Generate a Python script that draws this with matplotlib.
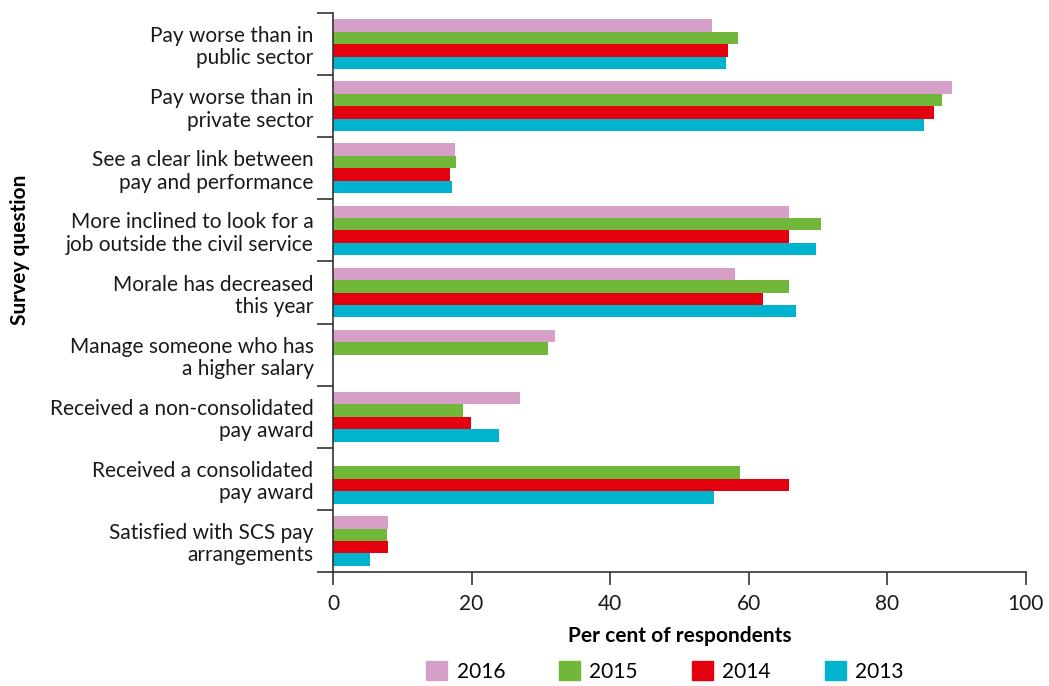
import numpy as np
import matplotlib
matplotlib.use('Agg')
import matplotlib.pyplot as plt
from matplotlib.patches import Patch

plt.rcParams['font.family'] = ['Lato', 'DejaVu Sans']

questions = [
  'Pay worse than in\npublic sector',
  'Pay worse than in\nprivate sector',
  'See a clear link between\npay and performance',
  'More inclined to look for a\njob outside the civil service',
  'Morale has decreased\nthis year',
  'Manage someone who has\na higher salary',
  'Received a non-consolidated\npay award',
  'Received a consolidated\npay award',
  'Satisfied with SCS pay\narrangements',
]
years = ['2016', '2015', '2014', '2013']
colors = ['#D69FC8', '#71B73A', '#E3000F', '#00B4D0']

nan = np.nan
v2016 = [54.7, 89.4, 17.6, 65.8, 58.0, 32.0, 27.0, nan, 8.0]
v2015 = [58.4, 87.9, 17.7, 70.4, 65.8, 31.1, 18.8, 58.8, 7.8]
v2014 = [57.0, 86.7, 16.9, 65.8, 62.0, nan, 19.9, 65.8, 7.9]
v2013 = [56.7, 85.3, 17.2, 69.7, 66.8, nan, 24.0, 55.0, 5.3]
series = [v2016, v2015, v2014, v2013]

fig = plt.figure(figsize=(10.49, 6.86), dpi=100)
ax = fig.add_axes([0.3174, 0.1662, 0.978 - 0.3174, 0.981 - 0.1662])

y = np.arange(len(questions))
h = 0.2
for i, (vals, c) in enumerate(zip(series, colors)):
  ax.barh(y + (i - 1.5) * h, vals, height=h, color=c, linewidth=0)

ax.set_ylim(len(questions) - 0.5, -0.5)
ax.set_xlim(0, 100)
ax.set_xticks(np.arange(0, 101, 20))

# boundary ticks (major) and labels at centres (minor)
ax.set_yticks(np.arange(-0.5, len(questions), 1.0))
ax.set_yticklabels([])
ax.set_yticks(y, minor=True)
ax.set_yticklabels(questions, minor=True, fontsize=15, color='#1a1a1a', linespacing=1.15)
ax.tick_params(axis='y', which='major', length=11.5, width=1.2, color='#333333')
ax.tick_params(axis='y', which='minor', length=0, pad=14)
ax.tick_params(axis='x', length=9.5, width=1.2, color='#333333', labelsize=15, pad=6, labelcolor='#1a1a1a')

for s in ['top', 'right']:
  ax.spines[s].set_visible(False)
for s in ['left', 'bottom']:
  ax.spines[s].set_color('#333333')
  ax.spines[s].set_linewidth(1.2)

ax.set_xlabel('Per cent of respondents', fontsize=15, fontweight='bold', labelpad=9)
fig.text(0.019, 0.636, 'Survey question', rotation=90, fontsize=15, fontweight='bold',
         ha='center', va='center')

handles = [Patch(color=c, label=yr) for yr, c in zip(years, colors)]
fig.legend(handles=handles, loc='center', bbox_to_anchor=(0.634, 0.021), ncol=4,
           frameon=False, fontsize=15, handlelength=1.0, handleheight=1.0,
           handletextpad=0.45, columnspacing=2.6)

fig.savefig('out.png', dpi=100)
